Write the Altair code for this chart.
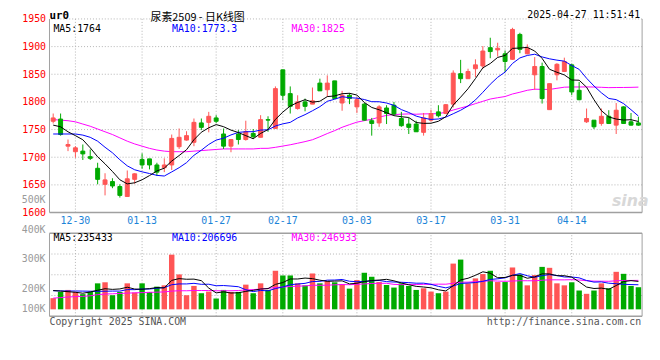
import altair as alt
import pandas as pd

# ---------------- data ----------------
dates = ["12-25", "12-26", "12-27", "12-30", "12-31", "01-02", "01-03", "01-06", "01-07", "01-08",
         "01-09", "01-10", "01-13", "01-14", "01-15", "01-16", "01-17", "01-20", "01-21", "01-22",
         "01-23", "01-24", "01-27", "02-05", "02-06", "02-07", "02-10", "02-11", "02-12", "02-13",
         "02-14", "02-17", "02-18", "02-19", "02-20", "02-21", "02-24", "02-25", "02-26", "02-27",
         "02-28", "03-03", "03-04", "03-05", "03-06", "03-07", "03-10", "03-11", "03-12", "03-13",
         "03-14", "03-17", "03-18", "03-19", "03-20", "03-21", "03-24", "03-25", "03-26", "03-27",
         "03-28", "03-31", "04-01", "04-02", "04-03", "04-07", "04-08", "04-09", "04-10", "04-11",
         "04-14", "04-15", "04-16", "04-17", "04-18", "04-21", "04-22", "04-23", "04-24", "04-25"]

open_ = [1765, 1769, 1720, 1710, 1711, 1701, 1680, 1651, 1656, 1647,
         1629, 1660, 1696, 1697, 1686, 1681, 1686, 1719, 1731, 1727,
         1762, 1763, 1771, 1742, 1720, 1742, 1732, 1743, 1736, 1768,
         1752, 1858, 1815, 1788, 1800, 1796, 1834, 1822, 1838, 1798,
         1812, 1791, 1796, 1766, 1762, 1789, 1794, 1770, 1760, 1760,
         1745, 1767, 1782, 1779, 1796, 1851, 1842, 1860, 1865, 1898,
         1894, 1887, 1877, 1922, 1887, 1849, 1864, 1786, 1849, 1855,
         1867, 1821, 1764, 1767, 1761, 1774, 1758, 1791, 1764, 1762]
high = [1779, 1779, 1732, 1720, 1723, 1714, 1690, 1671, 1662, 1651,
        1676, 1671, 1707, 1697, 1690, 1698, 1741, 1752, 1747, 1770,
        1770, 1782, 1776, 1752, 1733, 1749, 1766, 1751, 1776, 1774,
        1828, 1858, 1828, 1812, 1806, 1826, 1842, 1848, 1838, 1820,
        1816, 1809, 1798, 1771, 1794, 1794, 1800, 1782, 1771, 1766,
        1780, 1786, 1794, 1796, 1857, 1876, 1860, 1877, 1901, 1916,
        1907, 1893, 1934, 1925, 1904, 1881, 1871, 1833, 1870, 1880,
        1869, 1836, 1788, 1767, 1788, 1785, 1798, 1792, 1780, 1773]
low = [1761, 1739, 1711, 1699, 1695, 1695, 1651, 1631, 1644, 1627,
       1629, 1652, 1679, 1678, 1666, 1673, 1677, 1715, 1730, 1720,
       1749, 1745, 1762, 1715, 1709, 1723, 1730, 1733, 1736, 1746,
       1752, 1803, 1779, 1786, 1783, 1796, 1820, 1809, 1806, 1784,
       1796, 1780, 1766, 1739, 1755, 1760, 1776, 1755, 1742, 1746,
       1739, 1764, 1772, 1778, 1790, 1834, 1842, 1845, 1860, 1879,
       1882, 1854, 1876, 1888, 1886, 1822, 1797, 1786, 1839, 1854,
       1812, 1803, 1762, 1751, 1757, 1760, 1742, 1761, 1757, 1757]
close = [1771, 1741, 1723, 1717, 1706, 1698, 1660, 1659, 1648, 1631,
         1661, 1670, 1686, 1686, 1673, 1686, 1734, 1736, 1739, 1763,
         1754, 1774, 1765, 1720, 1732, 1732, 1746, 1737, 1768, 1767,
         1824, 1812, 1792, 1800, 1792, 1802, 1820, 1834, 1806, 1812,
         1806, 1804, 1767, 1761, 1791, 1779, 1778, 1757, 1754, 1746,
         1771, 1779, 1775, 1795, 1852, 1842, 1855, 1867, 1892, 1891,
         1897, 1873, 1931, 1895, 1897, 1864, 1806, 1833, 1868, 1873,
         1818, 1804, 1770, 1755, 1774, 1761, 1785, 1761, 1758, 1758]

ma5 = [1758, 1755, 1746, 1739, 1731.6, 1717, 1700.8, 1688, 1674.2, 1659.2,
       1651.8, 1653.8, 1659.2, 1666.8, 1675.2, 1680.2, 1693, 1703, 1713.6, 1731.6,
       1745.2, 1753.2, 1759, 1755.2, 1749, 1744.6, 1739, 1733.4, 1743, 1750,
       1768.4, 1781.6, 1792.6, 1799, 1804, 1799.6, 1801.2, 1809.6, 1810.8, 1814.8,
       1815.6, 1812.4, 1799, 1790, 1785.8, 1780.4, 1775.2, 1773.2, 1771.8, 1762.8,
       1761.2, 1761.4, 1765, 1773.2, 1794.4, 1808.6, 1823.8, 1842.2, 1861.6, 1869.4,
       1880.4, 1884, 1896.8, 1897.4, 1898.6, 1892, 1878.6, 1859, 1853.6, 1848.8,
       1839.6, 1839.2, 1826.6, 1804, 1784.2, 1772.8, 1769, 1767.2, 1767.8, 1764.6]
ma10 = [1742, 1742, 1742, 1742, 1740, 1736, 1729, 1718, 1708, 1695.4,
        1684.4, 1677.3, 1673.6, 1670.5, 1667.2, 1666, 1673.4, 1681.1, 1690.2, 1703.4,
        1712.7, 1723.1, 1731, 1734.4, 1740.3, 1744.9, 1746.1, 1746.2, 1749.1, 1749.5,
        1756.5, 1760.3, 1763, 1771, 1777, 1784, 1791.4, 1801.1, 1804.9, 1809.4,
        1807.6, 1806.8, 1804.3, 1800.4, 1800.3, 1798, 1793.8, 1786.1, 1780.9, 1774.3,
        1770.8, 1768.3, 1769.1, 1772.5, 1778.6, 1784.9, 1792.6, 1803.6, 1817.4, 1831.9,
        1844.5, 1853.9, 1869.5, 1879.5, 1884, 1886.2, 1881.3, 1877.9, 1875.5, 1873.7,
        1865.8, 1858.9, 1842.8, 1828.8, 1816.5, 1806.2, 1804.1, 1796.9, 1785.9, 1774.4]
ma30 = [1768, 1767, 1766, 1764, 1760, 1756, 1751, 1746, 1741, 1735,
        1729, 1724, 1720, 1716, 1713, 1711, 1710, 1710, 1710, 1711,
        1712, 1713, 1714, 1715, 1715, 1715, 1715, 1715, 1716, 1716.1,
        1717.9, 1720.2, 1722.5, 1725.3, 1728.2, 1731.6, 1737, 1742.8, 1748.1, 1754.1,
        1758.9, 1763.4, 1766.1, 1768.6, 1772.5, 1775.6, 1777.1, 1777.8, 1778.3, 1777.7,
        1778.3, 1778.5, 1778.8, 1781.3, 1785.3, 1789, 1792.6, 1796.9, 1801.1, 1805.2,
        1807.6, 1809.7, 1814.3, 1817.5, 1821, 1823, 1822.6, 1822.5, 1824.6, 1826.6,
        1827, 1827, 1827.1, 1826.9, 1826.4, 1825.8, 1826, 1826.1, 1826.3, 1826.7]

# volume in thousands of lots
volume = [95, 148, 165, 148, 129, 148, 221, 230, 120, 148,
          221, 143, 221, 148, 193, 204, 465, 297, 120, 199,
          137, 151, 92, 165, 148, 148, 210, 137, 221, 165,
          328, 288, 288, 221, 204, 305, 221, 241, 230, 213,
          176, 249, 311, 277, 232, 207, 185, 221, 199, 165,
          179, 151, 137, 151, 389, 423, 221, 263, 300, 328,
          232, 232, 356, 297, 204, 291, 361, 353, 221, 204,
          230, 160, 132, 160, 221, 179, 319, 302, 199, 188]
vma5 = [160, 155, 150, 145, 137, 147.6, 162.2, 175.2, 169.6, 173.4,
        188, 172.4, 170.6, 176.2, 185.2, 181.8, 246.2, 261.4, 255.8, 257,
        243.6, 180.8, 139.8, 148.8, 138.6, 140.8, 152.6, 161.6, 172.8, 176.2,
        212.2, 227.8, 258, 258, 265.8, 261.2, 247.8, 238.4, 240.2, 242,
        216.2, 221.8, 235.8, 245.2, 249, 255.2, 242.4, 224.4, 208.8, 195.4,
        189.8, 183, 166.2, 156.6, 201.4, 250.2, 264.2, 289.4, 319.2, 307,
        268.8, 271, 289.6, 289, 264.2, 276, 301.8, 301.2, 286, 286,
        273.8, 233.6, 189.4, 177.2, 180.6, 170.4, 202.2, 236.2, 244, 237.4]
vma10 = [158, 157, 156, 156, 155, 154, 153, 154, 155, 155.2,
         167.8, 167.3, 172.9, 172.9, 179.3, 184.9, 209.3, 216, 216, 221.1,
         212.7, 213.5, 200.6, 202.3, 197.8, 192.2, 166.7, 150.7, 160.8, 157.4,
         176.5, 190.2, 209.8, 215.4, 221, 236.7, 237.8, 248.2, 249.1, 253.9,
         238.7, 234.8, 237.1, 242.7, 245.5, 235.7, 232.1, 230.1, 227, 222.2,
         222.5, 212.7, 195.3, 182.7, 198.4, 220, 223.6, 227.8, 237.9, 254.2,
         259.5, 267.6, 289.5, 304.1, 285.6, 272.4, 286.4, 295.4, 287.5, 275.1,
         274.9, 267.7, 245.3, 231.6, 233.3, 222.1, 217.9, 212.8, 210.6, 209]
vma30 = [95, 100, 105, 108, 110, 115, 125, 130, 132, 135,
         138, 140, 142, 144, 146, 148, 155, 158, 158, 160,
         160, 160, 158, 158, 158, 160, 165, 168, 172, 177.9,
         185.7, 190.3, 194.4, 196.9, 199.4, 204.6, 204.6, 205, 208.6, 210.8,
         209.3, 212.8, 215.8, 220.1, 221.4, 221.5, 212.2, 209.7, 212.3, 211.2,
         212.6, 212.6, 214.1, 213.6, 221.6, 230.8, 231.2, 235.4, 238, 243.4,
         240.2, 238.4, 240.6, 243.2, 243.2, 242.7, 247.4, 251.1, 250.8, 250.5,
         252.3, 249.3, 243.4, 239.5, 239.1, 238.4, 242.8, 245.5, 245.5, 246.3]

tick_dates = ["12-30", "01-13", "01-27", "02-17", "03-03", "03-17", "03-31", "04-14"]
price_ticks = [1950, 1900, 1850, 1800, 1750, 1700, 1650, 1600]
price_grid = [1650, 1700, 1750, 1800, 1850, 1900, 1950]
vol_tick_values = [500, 400, 300, 200, 100]
vol_tick_labels = ["500K", "400K", "300K", "200K", "100K"]
vol_grid = [117.6, 294, 470.4]
vol_box = [-58.8, 646.8]

price_legend = ["MA5:1764", "MA10:1773.3", "MA30:1825"]
vol_legend = ["MA5:235433", "MA10:206696", "MA30:246933"]

# ---------------- styling ----------------
RED = "#ff5555"
GREEN = "#00aa00"
MONO = "DejaVu Sans Mono"
GRID = "#b4b4b4"
FRAME = "#a0a0a0"

df = pd.DataFrame({
    "date": dates, "open": open_, "high": high, "low": low, "close": close,
    "ma5": ma5, "ma10": ma10, "ma30": ma30,
    "volume": volume, "vma5": vma5, "vma10": vma10, "vma30": vma30,
})

xs = alt.Scale(type="band", domain=dates, paddingInner=0, paddingOuter=0)
xaxis = alt.Axis(values=tick_dates, orient="bottom", offset=-105, labelColor="#1c84d8",
                 labelFont=MONO, labelFontSize=10, labelAngle=0, domain=False, ticks=False,
                 tickSize=0, grid=False, labelPadding=3, title=None)
X = alt.X("date:O", scale=xs, axis=xaxis)

ps = alt.Scale(domain=[1600, 1950], range=[195, -1], nice=False, zero=False)
price_axis = alt.Axis(values=price_ticks, format="d", labelColor="#ff0000", labelFont=MONO,
                      labelFontSize=10, domain=False, ticks=False, grid=False, labelPadding=4,
                      title=None)
vs = alt.Scale(domain=vol_box, range=[300, 216], nice=False, zero=False)

cc = alt.condition("datum.close >= datum.open", alt.value(RED), alt.value(GREEN))
base = alt.Chart(df)


def PY(field):
    return alt.Y(field, scale=ps, axis=price_axis)


def VY(field):
    return alt.Y(field, scale=vs, axis=None)


# ----- price panel -----
p_hgrid = alt.Chart(pd.DataFrame({"p": price_grid})).mark_rule(
    color=GRID, strokeDash=[1, 2]).encode(y=PY("p:Q"))
p_vgrid = alt.Chart(pd.DataFrame({"date": tick_dates, "lo": 1600, "hi": 1950})).mark_rule(
    color=GRID, strokeDash=[1, 2]).encode(x=X, y=PY("lo:Q"), y2="hi:Q")
p_bottom = alt.Chart(pd.DataFrame({"p": [1600]})).mark_rule(color=FRAME, strokeWidth=1.5).encode(y=PY("p:Q"))
p_frame_df = pd.DataFrame({"lo": [1600], "hi": [1950]})
p_left = alt.Chart(p_frame_df).mark_rule(color=FRAME).encode(x=alt.value(0), y=PY("lo:Q"), y2="hi:Q")
p_right = alt.Chart(p_frame_df).mark_rule(color=FRAME).encode(x=alt.value(600), y=PY("lo:Q"), y2="hi:Q")

wicks = base.mark_rule(strokeWidth=1).encode(x=X, y=PY("low:Q"), y2="high:Q", color=cc)
bodies = base.mark_bar(size=4, strokeWidth=1).encode(x=X, y=PY("open:Q"), y2="close:Q", color=cc, stroke=cc)
l5 = base.mark_line(color="#000000", strokeWidth=1).encode(x=X, y=PY("ma5:Q"))
l10 = base.mark_line(color="#0000ff", strokeWidth=1).encode(x=X, y=PY("ma10:Q"))
l30 = base.mark_line(color="#ff00ff", strokeWidth=1).encode(x=X, y=PY("ma30:Q"))

price = alt.layer(p_hgrid, p_vgrid, p_bottom, p_left, p_right, l30, wicks, bodies, l10, l5)

# ----- volume panel -----
v_hgrid = alt.Chart(pd.DataFrame({"v": vol_grid})).mark_rule(
    color=GRID, strokeDash=[1, 2]).encode(y=VY("v:Q"))
v_vgrid = alt.Chart(pd.DataFrame({"date": tick_dates, "lo": vol_box[0], "hi": vol_box[1]})).mark_rule(
    color=GRID, strokeDash=[1, 2]).encode(x=X, y=VY("lo:Q"), y2="hi:Q")
v_box_h = alt.Chart(pd.DataFrame({"v": vol_box})).mark_rule(color=FRAME, strokeWidth=1.5).encode(y=VY("v:Q"))
v_frame_df = pd.DataFrame({"lo": [vol_box[0]], "hi": [vol_box[1]]})
v_left = alt.Chart(v_frame_df).mark_rule(color=FRAME).encode(x=alt.value(0), y=VY("lo:Q"), y2="hi:Q")
v_right = alt.Chart(v_frame_df).mark_rule(color=FRAME).encode(x=alt.value(600), y=VY("lo:Q"), y2="hi:Q")
vbars = base.mark_bar(size=5.5).encode(x=X, y=VY("volume:Q"), y2=alt.datum(0), color=cc)
vl5 = base.mark_line(color="#000000", strokeWidth=1).encode(x=X, y=VY("vma5:Q"))
vl10 = base.mark_line(color="#0000ff", strokeWidth=1).encode(x=X, y=VY("vma10:Q"))
vl30 = base.mark_line(color="#ff00ff", strokeWidth=1).encode(x=X, y=VY("vma30:Q"))

vol = alt.layer(v_hgrid, v_vgrid, v_box_h, v_left, v_right, vbars, vl30, vl10, vl5)

# volume axis labels (Sina clamps the lowest label inside the panel)
vol_labels = alt.Chart(pd.DataFrame({"v": vol_tick_values, "t": vol_tick_labels})).mark_text(
    align="right", baseline="middle", font=MONO, fontSize=10, color="#9a9a9a").encode(
    x=alt.value(-4),
    y=alt.Y("v:Q", scale=alt.Scale(domain=[131.7, 600], range=[293, 152.5], clamp=True,
                                   nice=False, zero=False), axis=None),
    text="t:N")


def label(txt, x, y, color="#000000", align="left", font=MONO, size=10, weight="normal",
          style="normal", baseline="middle"):
    return alt.Chart(pd.DataFrame({"t": [txt]})).mark_text(
        align=align, baseline=baseline, font=font, fontSize=size, fontWeight=weight,
        fontStyle=style, color=color).encode(x=alt.value(x), y=alt.value(y), text="t:N")


texts = [
    label("ur0", 0, -9.5, size=11, weight="bold", baseline="top"),
    label("尿素2509 - 日K线图", 150, -8, align="center", font="Noto Sans CJK SC", size=11,
          baseline="top"),
    label("2025-04-27 11:51:41", 598, -9.5, align="right", baseline="top"),
    label(price_legend[0], 4, 9, "#000000"),
    label(price_legend[1], 124, 9, "#0000ff"),
    label(price_legend[2], 245, 9, "#ff00ff"),
    label(vol_legend[0], 4, 220.5, "#000000"),
    label(vol_legend[1], 124, 220.5, "#0000ff"),
    label(vol_legend[2], 245, 220.5, "#ff00ff"),
    label("Copyright 2025 SINA.COM", 0, 306, "#555555"),
    label("http://finance.sina.com.cn", 599, 306, "#555555", align="right"),
    label("sina", 588, 183, "#d8d8d8", align="center", font="DejaVu Sans", size=16,
          weight="bold", style="italic"),
]

chart = alt.layer(price, vol, vol_labels, *texts).resolve_scale(y="independent").properties(
    width=600, height=300,
    padding={"left": 42, "top": 10, "right": 10, "bottom": 24},
    autosize=alt.AutoSizeParams(type="none"),
    background="#ffffff",
).configure_view(stroke=None)

chart.save("out.html", embed_options={"renderer": "svg", "actions": False})
